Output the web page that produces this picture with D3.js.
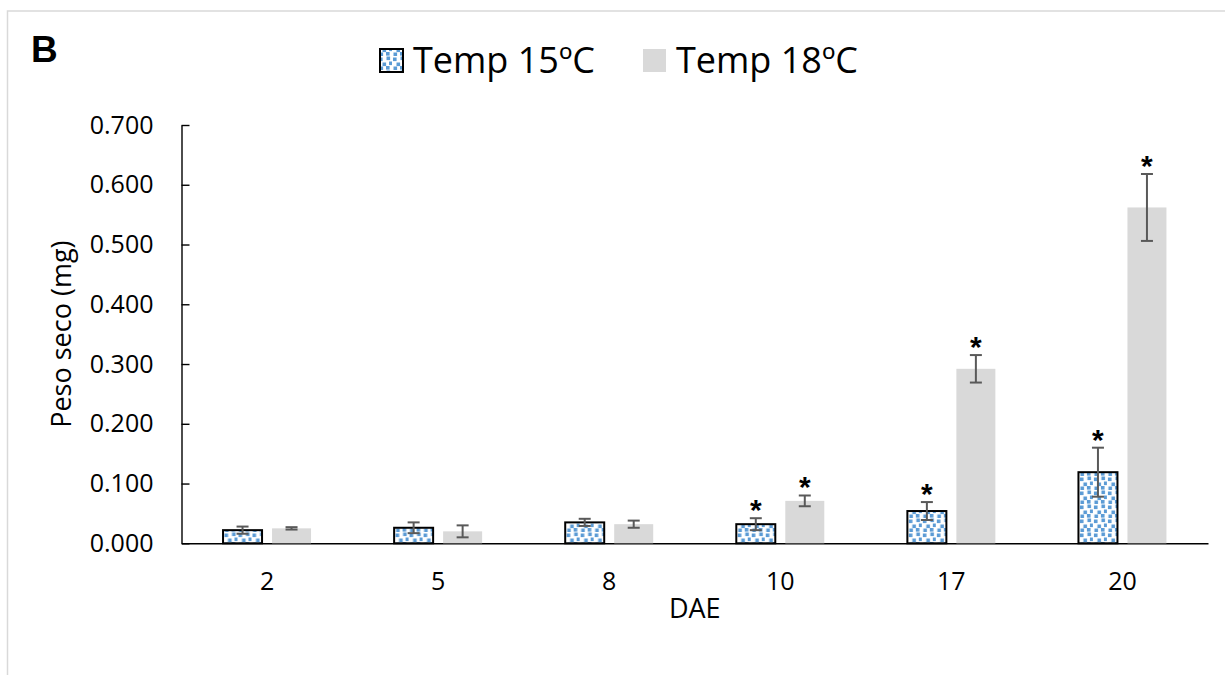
<!DOCTYPE html>
<html lang="es">
<head>
    <meta charset="UTF-8">
    <title>Peso seco por DAE</title>
    <script src="https://d3js.org/d3.v7.min.js"></script>
    <style>
        body {
            margin: 0;
            padding: 0;
            background: #fff;
            overflow: hidden;
        }

        text {
            font-family: 'Open Sans', 'Noto Sans', sans-serif;
            fill: #000;
        }

        .axis path,
        .axis line {
            stroke: #000;
            stroke-width: 1.4px;
        }

        .axis text {
            font-size: 25px;
        }

        .axis-title {
            font-size: 27px;
        }

        .panel-letter {
            font-family: 'Liberation Sans', Arial, sans-serif;
            font-weight: bold;
            font-size: 37px;
        }

        .legend text {
            font-size: 36px;
        }

        .err {
            stroke: #595959;
            stroke-width: 2px;
        }

        .star {
            font-family: 'Liberation Sans', Arial, sans-serif;
            font-size: 30px;
            font-weight: bold;
        }
    </style>
</head>
<body>
    <div id="chart"></div>

    <script>
        // datos
        const categorias = ["2", "5", "8", "10", "17", "20"];
        const series = ["Temp 15ºC", "Temp 18ºC"];
        const temp15 = [0.022, 0.026, 0.035, 0.032, 0.054, 0.119];
        const temp15Err = [0.006, 0.009, 0.006, 0.010, 0.015, 0.041];
        const temp18 = [0.025, 0.020, 0.032, 0.071, 0.292, 0.562];
        const temp18Err = [0.002, 0.010, 0.006, 0.009, 0.023, 0.056];
        const sig15 = [false, false, false, true, true, true];
        const sig18 = [false, false, false, true, true, true];
        const yTicks = [0, 0.1, 0.2, 0.3, 0.4, 0.5, 0.6, 0.7];

        const width = 1225;
        const height = 675;
        const plot = { left: 181.5, right: 1208, top: 125, bottom: 543.3 };

        const svg = d3.select("#chart")
            .append("svg")
            .attr("width", width)
            .attr("height", height);

        // patrón "confetti" azul
        const defs = svg.append("defs");
        const pat = defs.append("pattern")
            .attr("id", "confetti")
            .attr("patternUnits", "userSpaceOnUse")
            .attr("width", 14)
            .attr("height", 14);
        pat.append("rect").attr("width", 14).attr("height", 14).attr("fill", "#fff");
        [[1, 1.5], [8.5, 0.5], [4.5, 6.5], [11, 5.5], [1.5, 10.5], [8, 10]].forEach(function(p) {
            pat.append("rect")
                .attr("x", p[0]).attr("y", p[1])
                .attr("width", 3.6).attr("height", 3.6)
                .attr("fill", "#5b9bd5");
        });

        // marco exterior
        svg.append("rect")
            .attr("x", 7.5)
            .attr("y", 11)
            .attr("width", width + 10)
            .attr("height", height + 10)
            .attr("fill", "none")
            .attr("stroke", "#d9d9d9")
            .attr("stroke-width", 1.5);

        // escalas
        const x0 = d3.scaleBand()
            .domain(categorias)
            .range([plot.left, plot.right]);

        const groupW = 88;
        const x1 = d3.scaleBand()
            .domain(series)
            .range([(x0.bandwidth() - groupW) / 2, (x0.bandwidth() + groupW) / 2])
            .paddingInner(10 / 49);

        const y = d3.scaleLinear()
            .domain([0, 0.7])
            .range([plot.bottom, plot.top]);

        // ejes
        svg.append("g")
            .attr("class", "axis")
            .attr("transform", "translate(" + plot.left + ",0)")
            .call(d3.axisLeft(y)
                .tickValues(yTicks)
                .tickFormat(d3.format(".3f"))
                .tickSizeInner(-8)
                .tickSizeOuter(0)
                .tickPadding(28));

        svg.append("g")
            .attr("class", "axis")
            .attr("transform", "translate(0," + plot.bottom + ")")
            .call(d3.axisBottom(x0).tickSize(0).tickPadding(29));

        // barras
        const datos = categorias.map(function(c, i) {
            return [
                { cat: c, serie: series[0], v: temp15[i], e: temp15Err[i], sig: sig15[i] },
                { cat: c, serie: series[1], v: temp18[i], e: temp18Err[i], sig: sig18[i] }
            ];
        });

        const grupos = svg.selectAll(".grupo")
            .data(datos)
            .enter()
            .append("g")
            .attr("class", "grupo")
            .attr("transform", function(d) { return "translate(" + x0(d[0].cat) + ",0)"; });

        grupos.selectAll("rect")
            .data(function(d) { return d; })
            .enter()
            .append("rect")
            .attr("x", function(d) { return x1(d.serie); })
            .attr("y", function(d) { return y(d.v); })
            .attr("width", x1.bandwidth())
            .attr("height", function(d) { return y(0) - y(d.v); })
            .attr("fill", function(d) { return d.serie === series[0] ? "url(#confetti)" : "#d9d9d9"; })
            .attr("stroke", function(d) { return d.serie === series[0] ? "#000" : "none"; })
            .attr("stroke-width", 2);

        // barras de error
        const err = grupos.selectAll(".errbar")
            .data(function(d) { return d; })
            .enter()
            .append("g")
            .attr("class", "errbar")
            .attr("transform", function(d) { return "translate(" + (x1(d.serie) + x1.bandwidth() / 2) + ",0)"; });

        err.append("line")
            .attr("class", "err")
            .attr("y1", function(d) { return y(d.v + d.e); })
            .attr("y2", function(d) { return y(d.v - d.e); });
        err.append("line")
            .attr("class", "err")
            .attr("x1", -6).attr("x2", 6)
            .attr("y1", function(d) { return y(d.v + d.e); })
            .attr("y2", function(d) { return y(d.v + d.e); });
        err.append("line")
            .attr("class", "err")
            .attr("x1", -6).attr("x2", 6)
            .attr("y1", function(d) { return y(d.v - d.e); })
            .attr("y2", function(d) { return y(d.v - d.e); });

        // asteriscos de significancia
        err.filter(function(d) { return d.sig; })
            .append("text")
            .attr("class", "star")
            .attr("text-anchor", "middle")
            .attr("y", function(d) { return y(d.v + d.e) + 2; })
            .text("*");

        // títulos de ejes
        svg.append("text")
            .attr("class", "axis-title")
            .attr("text-anchor", "middle")
            .attr("x", (plot.left + plot.right) / 2)
            .attr("y", 618)
            .text("DAE");

        svg.append("text")
            .attr("class", "axis-title")
            .attr("text-anchor", "middle")
            .attr("transform", "translate(71," + (plot.top + plot.bottom) / 2 + ") rotate(-90)")
            .text("Peso seco (mg)");

        svg.append("text")
            .attr("class", "panel-letter")
            .attr("x", 31)
            .attr("y", 62)
            .text("B");

        // leyenda
        const legend = svg.append("g").attr("class", "legend");
        const legX = [380, 643];
        series.forEach(function(s, i) {
            legend.append("rect")
                .attr("x", legX[i])
                .attr("y", 49)
                .attr("width", 23)
                .attr("height", 23)
                .attr("fill", i === 0 ? "url(#confetti)" : "#d9d9d9")
                .attr("stroke", i === 0 ? "#000" : "none")
                .attr("stroke-width", 2);
            legend.append("text")
                .attr("x", legX[i] + 33)
                .attr("y", 73)
                .text(s);
        });
    </script>
</body>
</html>
